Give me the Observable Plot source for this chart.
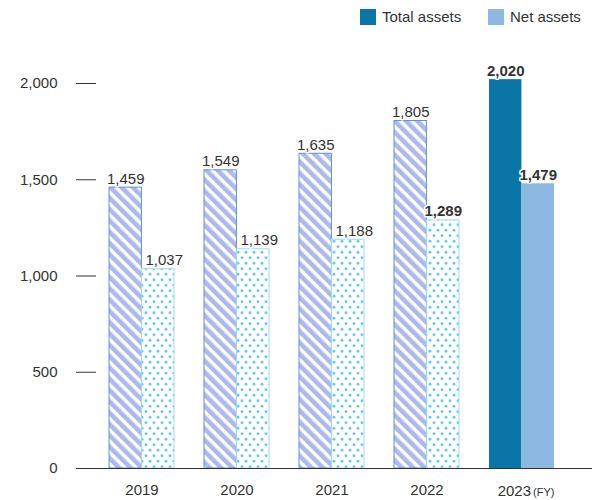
<!DOCTYPE html>
<html>
<head>
<meta charset="utf-8">
<script src="https://cdn.jsdelivr.net/npm/d3@7"></script>
<script src="https://cdn.jsdelivr.net/npm/@observablehq/plot@0.6"></script>
<style>
  body { margin: 0; background: #fff; font-family: "Liberation Sans", Arial, sans-serif; }
  #wrap { width: 592px; position: relative; }
  #legend { height: 35px; position: relative; }
  .sw { position: absolute; top: 9px; width: 16px; height: 16px; }
  .lt { position: absolute; top: 8px; font-size: 15px; line-height: 18px; color: #333; }
  #chart svg { display: block; }
</style>
</head>
<body>
<div id="wrap">
  <div id="legend"></div>
  <div id="chart"></div>
</div>
<script>
// ---- data ----
const years = ["2019", "2020", "2021", "2022", "2023"];
const totalAssets = [1459, 1549, 1635, 1805, 2020];
const netAssets = [1037, 1139, 1188, 1289, 1479];
const seriesNames = ["Total assets", "Net assets"];
const yTicks = [0, 500, 1000, 1500, 2000];
const fyLabel = "(FY)";
const boldLabels = ["2022|Net assets", "2023|Total assets", "2023|Net assets"];

// ---- styling ----
const colTotal = "#0a76a8";
const colNet = "#8cb8e2";
const ink = "#333";
const lastYear = years[years.length - 1];

const rows = years.flatMap((y, i) => [
  {year: y, series: seriesNames[0], value: totalAssets[i]},
  {year: y, series: seriesNames[1], value: netAssets[i]}
]);
const isBold = d => boldLabels.includes(d.year + "|" + d.series);

// legend
const legend = document.getElementById("legend");
[[seriesNames[0], colTotal, 360, 382], [seriesNames[1], colNet, 488, 510]].forEach(([name, c, sx, tx]) => {
  const s = document.createElement("div"); s.className = "sw"; s.style.left = sx + "px"; s.style.background = c;
  const t = document.createElement("div"); t.className = "lt"; t.style.left = tx + "px"; t.textContent = name;
  legend.append(s, t);
});

// layout
const W = 592, H = 465, mL = 96, mR = 0;
const pInner = 0.32, pOuter = 0.249, align = 0.26;
const step = (W - mL - mR) / (years.length - pInner + 2 * pOuter);
const bw = step * (1 - pInner);
const half = bw / 2;

const defs = () => {
  const d = d3.create("svg:defs");
  const s = d.append("pattern").attr("id", "stripes").attr("patternUnits", "userSpaceOnUse")
    .attr("width", 8).attr("height", 10).attr("patternTransform", "rotate(-45)");
  s.append("rect").attr("width", 8).attr("height", 10).attr("fill", "#fff");
  s.append("rect").attr("width", 4.6).attr("height", 10).attr("fill", "#adbae8");
  const p = d.append("pattern").attr("id", "dots").attr("patternUnits", "userSpaceOnUse")
    .attr("width", 8).attr("height", 11);
  p.append("rect").attr("width", 8).attr("height", 11).attr("fill", "#fff");
  p.append("circle").attr("cx", 2).attr("cy", 2.75).attr("r", 1.45).attr("fill", "#66c9f3");
  p.append("circle").attr("cx", 6).attr("cy", 8.25).attr("r", 1.45).attr("fill", "#66c9f3");
  return d.node();
};

const isTotal = d => d.series === seriesNames[0];
const isLast = d => d.year === lastYear;
const labelBase = {x: "year", y: "value", text: d => d3.format(",")(d.value), lineAnchor: "bottom", dy: -4,
  fill: ink, stroke: "#fff", strokeWidth: 3, paintOrder: "stroke", fontSize: 15};

const plot = Plot.plot({
  width: W, height: H,
  marginLeft: mL, marginRight: mR, marginTop: 48, marginBottom: 32,
  style: {fontFamily: "'Liberation Sans', Arial, sans-serif", fontSize: "15px", color: ink, background: "#fff"},
  x: {domain: years, paddingInner: pInner, paddingOuter: pOuter, align: align, label: null},
  y: {domain: [0, 2000], label: null},
  marks: [
    defs,
    Plot.barY(rows.filter(d => isTotal(d) && !isLast(d)), {x: "year", y: "value", fill: "url(#stripes)", stroke: "#5b92d8", strokeWidth: 1, insetRight: half}),
    Plot.barY(rows.filter(d => !isTotal(d) && !isLast(d)), {x: "year", y: "value", fill: "url(#dots)", stroke: "#9ddcf6", strokeWidth: 1, insetLeft: half}),
    Plot.barY(rows.filter(d => isTotal(d) && isLast(d)), {x: "year", y: "value", fill: colTotal, insetRight: half}),
    Plot.barY(rows.filter(d => !isTotal(d) && isLast(d)), {x: "year", y: "value", fill: colNet, insetLeft: half}),
    Plot.axisY({ticks: yTicks, tickSize: 20, tickPadding: 19, tickFormat: d3.format(","), label: null}),
    Plot.axisX({tickSize: 0, tickPadding: 16, tickFormat: d => d === lastYear ? "" : d, label: null}),
    Plot.ruleY([0], {stroke: ink}),
    Plot.text([lastYear], {x: d => d, frameAnchor: "bottom", lineAnchor: "bottom", dy: 27, dx: 9, textAnchor: "end", fill: ink, fontSize: 15}),
    Plot.text([fyLabel], {x: () => lastYear, frameAnchor: "bottom", lineAnchor: "bottom", dy: 27, dx: 11, textAnchor: "start", fill: ink, fontSize: 11}),
    Plot.text(rows.filter(d => isTotal(d) && !isBold(d)), {...labelBase, dx: -half / 2}),
    Plot.text(rows.filter(d => !isTotal(d) && !isBold(d)), {...labelBase, dx: half / 2 + 6}),
    Plot.text(rows.filter(d => isTotal(d) && isBold(d)), {...labelBase, dx: -half / 2, fontWeight: "bold"}),
    Plot.text(rows.filter(d => !isTotal(d) && isBold(d)), {...labelBase, dx: half / 2, fontWeight: "bold"})
  ]
});
document.getElementById("chart").append(plot);
</script>
</body>
</html>
